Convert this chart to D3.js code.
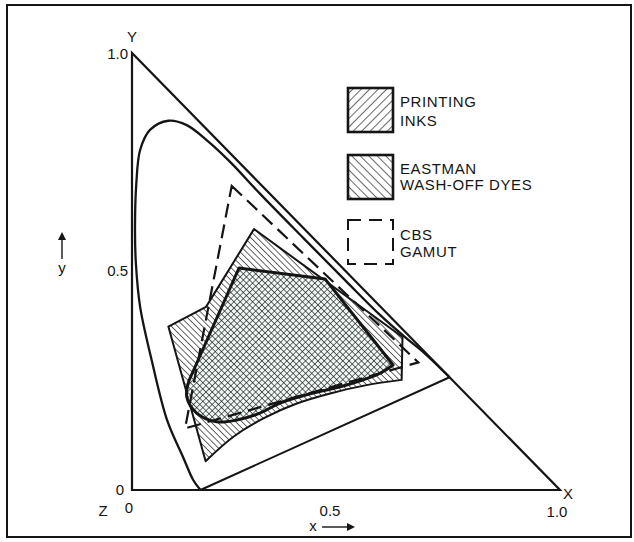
<!DOCTYPE html>
<html><head><meta charset="utf-8">
<script src="https://cdn.jsdelivr.net/npm/d3@7"></script>
<style>
html,body{margin:0;padding:0;background:#fff;}
svg{display:block;}
text{font-family:"Liberation Sans",Arial,sans-serif;fill:#151515;}
</style>
</head><body>
<svg id="c" width="634" height="542"></svg>
<script>
// ---- data (CIE x,y chromaticity) ----
const spectralLocus = [[0.160,0.000],[0.143,0.023],[0.119,0.076],[0.082,0.160],[0.046,0.297],[0.019,0.419],[0.009,0.520],[0.007,0.600],[0.010,0.700],[0.019,0.778],[0.042,0.824],[0.085,0.845],[0.128,0.835],[0.175,0.800],[0.228,0.752],[0.300,0.677],[0.400,0.577],[0.500,0.478],[0.580,0.400],[0.640,0.348],[0.680,0.316],[0.742,0.258]];
const purpleLine = [[0.160,0.000],[0.742,0.258]];
const xyzTriangle = [[0,0],[0,1],[1,0]];
const cbsGamut = [[0.233,0.696],[0.669,0.292],[0.124,0.141]];
const eastmanCorners = [[0.085,0.374],[0.173,0.419],[0.285,0.597],[0.632,0.350],[0.630,0.252]];
const eastmanCurve = [[0.630,0.252],[0.548,0.240],[0.463,0.221],[0.385,0.198],[0.307,0.164],[0.237,0.122],[0.172,0.066]];
const inksCorners = [[0.250,0.508],[0.451,0.483],[0.610,0.286]];
const inksCurve = [[0.610,0.286],[0.579,0.267],[0.486,0.236],[0.423,0.222],[0.346,0.199],[0.299,0.176],[0.245,0.160],[0.198,0.156],[0.151,0.176],[0.128,0.213],[0.133,0.250]];
const xTickValues = [0,0.5,1];
const xTickLabels = ["0","0.5","1.0"];
const yTickValues = [0,0.5,1];
const yTickLabels = ["0","0.5","1.0"];
const vertexLabels = ["Y","X","Z"];
const legendLabels = [["PRINTING","INKS"],["EASTMAN","WASH-OFF DYES"],["CBS","GAMUT"]];

// ---- scales ----
const x = d3.scaleLinear().domain([0,1]).range([132,560]);
const y = d3.scaleLinear().domain([0,1]).range([490,53]);
const svg = d3.select("#c");
const ink = "#151515";

// patterns
const defs = svg.append("defs");
function hatch(id, angle, gap, w){
  const p = defs.append("pattern").attr("id",id).attr("patternUnits","userSpaceOnUse")
    .attr("width",gap).attr("height",gap).attr("patternTransform",`rotate(${angle})`);
  p.append("line").attr("x1",0).attr("y1",-1).attr("x2",0).attr("y2",gap+1)
    .attr("stroke",ink).attr("stroke-width",w);
}
hatch("hInk",45,4.4,1.2);
hatch("hEast",-45,4.4,1.3);
hatch("lInk",45,6,1.3);
hatch("lEast",-45,6,1.3);

// frame
svg.append("rect").attr("x",7).attr("y",5).attr("width",624).attr("height",532)
  .attr("fill","none").attr("stroke",ink).attr("stroke-width",2);

const lin = d3.line().x(d=>x(d[0])).y(d=>y(d[1]));
const crv = d3.line().x(d=>x(d[0])).y(d=>y(d[1])).curve(d3.curveCatmullRom.alpha(0.5));
function shape(corners, curve){
  return lin(corners) + crv(curve).replace(/^M/,"L") + "Z";
}

// triangle
svg.append("path").attr("d", lin(xyzTriangle)+"Z").attr("fill","none")
  .attr("stroke",ink).attr("stroke-width",2.2).attr("stroke-linejoin","miter");

// spectral locus + purple line
svg.append("path").attr("d", crv(spectralLocus)).attr("fill","none")
  .attr("stroke",ink).attr("stroke-width",2.3);
svg.append("path").attr("d", lin(purpleLine)).attr("fill","none")
  .attr("stroke",ink).attr("stroke-width",2);

// Eastman wash-off dyes
const eastD = shape(eastmanCorners, eastmanCurve);
svg.append("path").attr("d", eastD).attr("fill","#fff");
svg.append("path").attr("d", eastD).attr("fill","url(#hEast)")
  .attr("stroke",ink).attr("stroke-width",2).attr("stroke-linejoin","round");

// Printing inks
const inkD = shape(inksCorners, inksCurve);
svg.append("path").attr("d", inkD).attr("fill","#f0f8f5");
svg.append("path").attr("d", inkD).attr("fill","url(#hEast)");
svg.append("path").attr("d", inkD).attr("fill","url(#hInk)")
  .attr("stroke",ink).attr("stroke-width",3).attr("stroke-linejoin","round");

// CBS gamut
svg.append("path").attr("d", lin(cbsGamut)+"Z").attr("fill","none")
  .attr("stroke",ink).attr("stroke-width",2.2).attr("stroke-dasharray","14,7");

// ---- tick labels ----
const fs = 15;
svg.append("text").attr("x",x(0.5)-16).attr("y",516).attr("text-anchor","middle").attr("font-size",fs).text(xTickLabels[1]);
svg.append("text").attr("x",x(1)-3).attr("y",517).attr("text-anchor","middle").attr("font-size",fs).text(xTickLabels[2]);
svg.append("text").attr("x",x(0)-3).attr("y",513).attr("text-anchor","middle").attr("font-size",fs).text(xTickLabels[0]);
svg.append("text").attr("x",x(0)-4).attr("y",y(1)+6).attr("text-anchor","end").attr("font-size",fs).text(yTickLabels[2]);
svg.append("text").attr("x",x(0)-4).attr("y",y(0.5)+4).attr("text-anchor","end").attr("font-size",fs).text(yTickLabels[1]);
svg.append("text").attr("x",x(0)-8).attr("y",y(0)+5).attr("text-anchor","end").attr("font-size",fs).text(yTickLabels[0]);
// vertex labels
svg.append("text").attr("x",x(0)).attr("y",y(1)-11).attr("text-anchor","middle").attr("font-size",fs).text(vertexLabels[0]);
svg.append("text").attr("x",x(1)+3).attr("y",y(0)+9).attr("text-anchor","start").attr("font-size",fs).text(vertexLabels[1]);
svg.append("text").attr("x",x(0)-29).attr("y",516).attr("text-anchor","middle").attr("font-size",fs).text(vertexLabels[2]);

// axis name arrows
svg.append("text").attr("x",62).attr("y",273).attr("text-anchor","middle").attr("font-size",15).text("y");
svg.append("line").attr("x1",62).attr("y1",259).attr("x2",62).attr("y2",236).attr("stroke",ink).attr("stroke-width",1.4);
svg.append("path").attr("d","M58,240 L62,232 L66,240 Z").attr("fill",ink);
svg.append("text").attr("x",313).attr("y",531).attr("text-anchor","middle").attr("font-size",15).text("x");
svg.append("line").attr("x1",322).attr("y1",527).attr("x2",350).attr("y2",527).attr("stroke",ink).attr("stroke-width",1.4);
svg.append("path").attr("d","M347,523 L355,527 L347,531 Z").attr("fill",ink);

// ---- legend ----
const lg = [{y:88, fill:"url(#lInk)", dash:null},{y:155, fill:"url(#lEast)", dash:null},{y:220, fill:"none", dash:"13,8"}];
const lineY = [[107,126],[174,190],[240,257]];
lg.forEach((d,i)=>{
  svg.append("rect").attr("x",348).attr("y",d.y).attr("width",45).attr("height",44)
    .attr("fill", d.fill==="none" ? "none" : d.fill).attr("stroke",ink)
    .attr("stroke-width", d.dash ? 2 : 2.6).attr("stroke-dasharray", d.dash);
  legendLabels[i].forEach((t,j)=>{
    svg.append("text").attr("x",400).attr("y",lineY[i][j]).attr("font-size",15)
      .attr("letter-spacing",0.6).text(t);
  });
});
</script>
</body></html>
